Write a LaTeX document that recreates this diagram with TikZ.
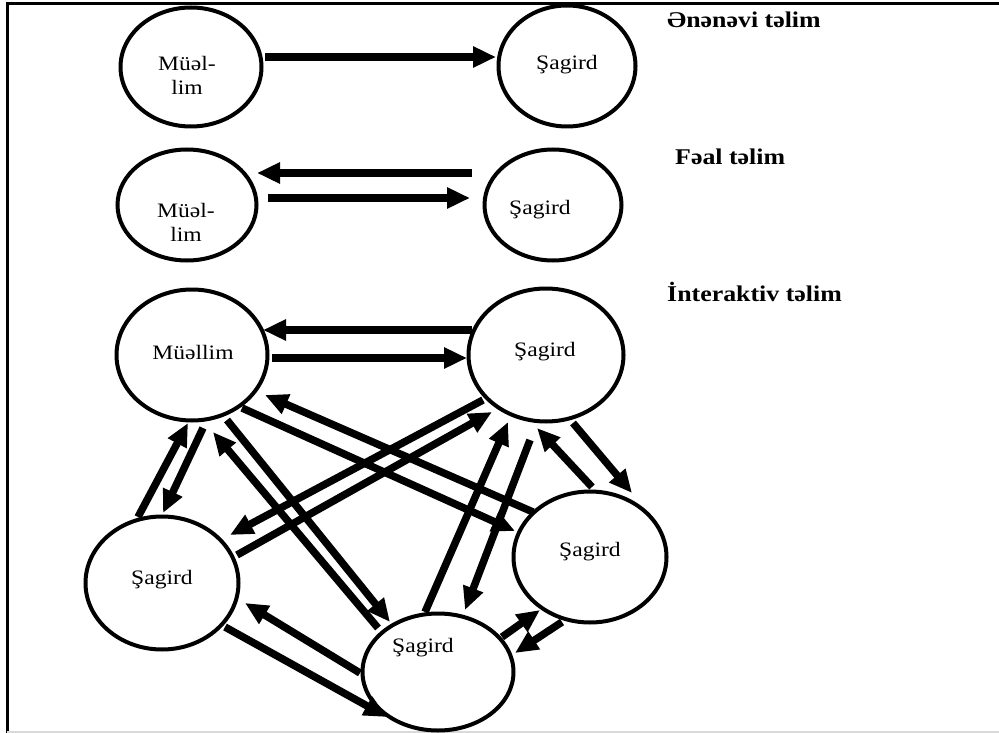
\documentclass[tikz,border=0pt]{standalone}
\usepackage{fontspec}
\setmainfont[FakeStretch=1.15]{Liberation Serif}
\usetikzlibrary{arrows.meta,shapes.geometric}
\begin{document}
\begin{tikzpicture}[x=1pt,y=-1pt,
  ell/.style 2 args={ellipse, draw, line width=4pt, inner sep=0pt, minimum width=#1pt, minimum height=#2pt},
  lbl/.style={font=\fontsize{20.5}{24}\selectfont, align=center, inner sep=0pt},
  ttl/.style={font=\fontsize{22.5}{26}\selectfont\bfseries, inner sep=0pt, anchor=west},
  arr/.style={line width=7.5pt, -{Triangle[length=23pt,width=20pt]}},
  frame/.style={line width=3pt}]
\useasboundingbox (0,0) rectangle (999,733);
% frame
\draw[frame] (7,733) -- (7,4) -- (999,4);
\draw[gray!30, line width=2pt] (7,731.5) -- (999,731.5);
% ellipses
\node[ell={141}{119}] (M1) at (191,67) {};
\node[ell={137}{121}] (S1a) at (567,66) {};
\node[ell={139}{111}] (M2) at (187,205) {};
\node[ell={137}{111}] (S2a) at (553,205) {};
\node[ell={151}{131}] (M) at (192,355) {};
\node[ell={155}{133}] (T) at (546,355) {};
\node[ell={153}{133}] (L) at (162,583) {};
\node[ell={151}{117}] (B) at (438,672) {};
\node[ell={153}{131}] (R) at (590,557) {};
% texts
\node[lbl] (tM1) at (187,75) {Müəl-\\lim};
\node[lbl] (tS1a) at (567,65) {Şagird};
\node[lbl] (tM2) at (186,222) {Müəl-\\lim};
\node[lbl] (tS2a) at (540,210) {Şagird};
\node[lbl] (tM) at (193,352) {Müəllim};
\node[lbl] (tT) at (545,352) {Şagird};
\node[lbl] (tL) at (162,580) {Şagird};
\node[lbl] (tB) at (423,648) {Şagird};
\node[lbl] (tR) at (590,552) {Şagird};
% titles
\node[ttl] (h1) at (667,20) {Ənənəvi təlim};
\node[ttl] (h2) at (675,157) {Fəal təlim};
\node[ttl] (h3) at (667,292) {İnteraktiv təlim};
% row 1
\draw[arr] ([shift={(74,-10)}]M1.center) -- ([shift={(-71,-9)}]S1a.center);
% row 2
\draw[arr] ([shift={(-81,-32)}]S2a.center) -- ([shift={(70,-32)}]M2.center);
\draw[arr] ([shift={(81,-7)}]M2.center) -- ([shift={(-83,-7)}]S2a.center);
% interactive
\draw[arr] ([shift={(-74,-25)}]T.center) -- ([shift={(71,-25)}]M.center);
\draw[arr] ([shift={(80,3)}]M.center) -- ([shift={(-79,3)}]T.center);
\draw[arr] ([shift={(-24,-66)}]L.center) -- ([shift={(-4,68)}]M.center);
\draw[arr] ([shift={(11,73)}]M.center) -- ([shift={(1,-70)}]L.center);
\draw[arr] ([shift={(-60,-44)}]B.center) -- ([shift={(21,77)}]M.center);
\draw[arr] ([shift={(35,65)}]M.center) -- ([shift={(-48,-50)}]B.center);
\draw[arr] ([shift={(50,53)}]M.center) -- ([shift={(-75,-26)}]R.center);
\draw[arr] ([shift={(-57,-45)}]R.center) -- ([shift={(73,40)}]M.center);
\draw[arr] ([shift={(-63,45)}]T.center) -- ([shift={(68,-48)}]L.center);
\draw[arr] ([shift={(75,-28)}]L.center) -- ([shift={(-54,57)}]T.center);
\draw[arr] ([shift={(-13,-60)}]B.center) -- ([shift={(-38,67)}]T.center);
\draw[arr] ([shift={(-16,85)}]T.center) -- ([shift={(27,-62)}]B.center);
\draw[arr] ([shift={(2,-70)}]R.center) -- ([shift={(-9,73)}]T.center);
\draw[arr] ([shift={(27,68)}]T.center) -- ([shift={(42,-64)}]R.center);
\draw[arr] ([shift={(-78,1)}]B.center) -- ([shift={(83,20)}]L.center);
\draw[arr] ([shift={(63,44)}]L.center) -- ([shift={(-51,45)}]B.center);
\draw[arr] ([shift={(64,-35)}]B.center) -- ([shift={(-50,53)}]R.center);
\draw[arr] ([shift={(-28,65)}]R.center) -- ([shift={(77,-19)}]B.center);
\end{tikzpicture}
\end{document}
